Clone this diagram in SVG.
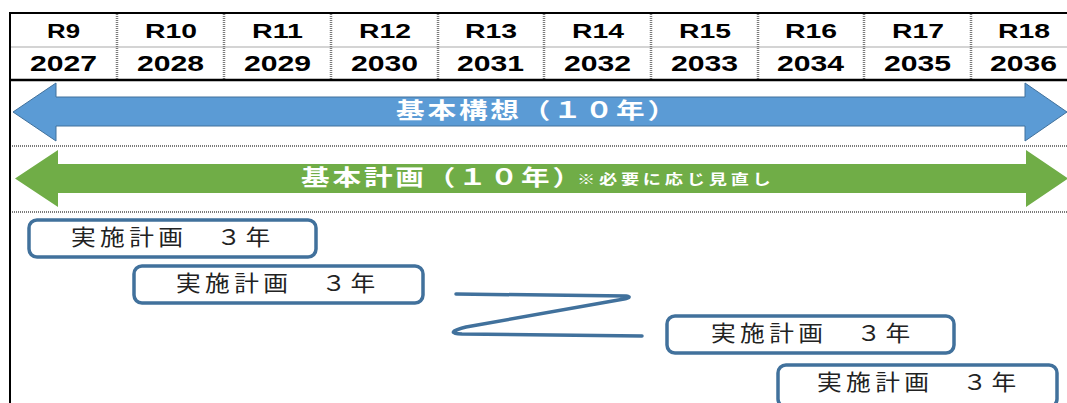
<svg xmlns="http://www.w3.org/2000/svg" width="1067" height="403" viewBox="0 0 1067 403">
  <style>
    .hdr { font-family: "Liberation Sans", Arial, sans-serif; font-weight: bold; fill: #000; }
    .dot { stroke: #7a7a7a; stroke-width: 2.5; stroke-dasharray: 1 1; fill: none; }
    .hdot { stroke: #7a7a7a; stroke-width: 2; stroke-dasharray: 1 1; fill: none; }
    .arrow-txt { font-family: "Noto Sans CJK JP", "Noto Sans", sans-serif; font-weight: bold; fill: #fff; }
    .box { fill: #fff; stroke: #41719C; stroke-width: 3.5; }
    .box-txt { font-family: "Noto Sans CJK JP", "Noto Sans", sans-serif; font-size: 21.5px; fill: #222; letter-spacing: 3.8px; }
    .zig { fill: none; stroke: #41719C; stroke-width: 3.5; stroke-linecap: round; stroke-linejoin: round; }
  </style>

  <rect x="0" y="0" width="1067" height="403" fill="#fff"/>

  <g id="timeline-header">
    <line x1="10" y1="47" x2="1067" y2="47" stroke="#d4d4d4" stroke-width="2"/>
    <g class="dot">
      <line x1="117" y1="14" x2="117" y2="80"/>
      <line x1="224" y1="14" x2="224" y2="80"/>
      <line x1="331" y1="14" x2="331" y2="80"/>
      <line x1="438" y1="14" x2="438" y2="80"/>
      <line x1="544" y1="14" x2="544" y2="80"/>
      <line x1="651" y1="14" x2="651" y2="80"/>
      <line x1="758" y1="14" x2="758" y2="80"/>
      <line x1="864" y1="14" x2="864" y2="80"/>
      <line x1="971" y1="14" x2="971" y2="80"/>
    </g>
    <line x1="9" y1="13" x2="1067" y2="13" stroke="#000" stroke-width="2"/>
    <line x1="9" y1="80" x2="1067" y2="80" stroke="#000" stroke-width="2.5"/>
    <g class="hdr" font-size="20">
      <text x="47" y="38" textLength="33" lengthAdjust="spacingAndGlyphs">R9</text>
      <text x="145" y="38" textLength="52" lengthAdjust="spacingAndGlyphs">R10</text>
      <text x="252" y="38" textLength="51" lengthAdjust="spacingAndGlyphs">R11</text>
      <text x="359" y="38" textLength="52" lengthAdjust="spacingAndGlyphs">R12</text>
      <text x="465" y="38" textLength="52" lengthAdjust="spacingAndGlyphs">R13</text>
      <text x="572" y="38" textLength="52" lengthAdjust="spacingAndGlyphs">R14</text>
      <text x="679" y="38" textLength="52" lengthAdjust="spacingAndGlyphs">R15</text>
      <text x="785" y="38" textLength="52" lengthAdjust="spacingAndGlyphs">R16</text>
      <text x="892" y="38" textLength="52" lengthAdjust="spacingAndGlyphs">R17</text>
      <text x="998" y="38" textLength="52" lengthAdjust="spacingAndGlyphs">R18</text>
    </g>
    <g class="hdr" font-size="22">
      <text x="30" y="71" textLength="67" lengthAdjust="spacingAndGlyphs">2027</text>
      <text x="137" y="71" textLength="67" lengthAdjust="spacingAndGlyphs">2028</text>
      <text x="244" y="71" textLength="67" lengthAdjust="spacingAndGlyphs">2029</text>
      <text x="351" y="71" textLength="67" lengthAdjust="spacingAndGlyphs">2030</text>
      <text x="457" y="71" textLength="67" lengthAdjust="spacingAndGlyphs">2031</text>
      <text x="564" y="71" textLength="67" lengthAdjust="spacingAndGlyphs">2032</text>
      <text x="671" y="71" textLength="67" lengthAdjust="spacingAndGlyphs">2033</text>
      <text x="777" y="71" textLength="67" lengthAdjust="spacingAndGlyphs">2034</text>
      <text x="884" y="71" textLength="67" lengthAdjust="spacingAndGlyphs">2035</text>
      <text x="990" y="71" textLength="67" lengthAdjust="spacingAndGlyphs">2036</text>
    </g>
  </g>

  <g id="row-separators" class="hdot">
    <line x1="10" y1="146" x2="1067" y2="146"/>
    <line x1="10" y1="212" x2="1067" y2="212"/>
  </g>

  <line x1="10" y1="12" x2="10" y2="403" stroke="#000" stroke-width="2"/>

  <g id="basic-concept">
    <polygon points="13,112 56,83 56,97 1025,97 1025,83 1067,112 1025,141 1025,126 56,126 56,141" fill="#5B9BD5" stroke="#41719C" stroke-width="1"/>
    <text class="arrow-txt" font-size="22" letter-spacing="2.2" transform="translate(396,118) scale(1.3,1)">基本構想（１０年）</text>
  </g>

  <g id="basic-plan">
    <polygon points="15,178.5 58,150 58,164 1026,164 1026,150 1068,178.5 1026,207 1026,193 58,193 58,207" fill="#70AD47"/>
    <text class="arrow-txt" font-size="22" letter-spacing="2.2" transform="translate(301,185) scale(1.3,1)">基本計画（１０年）</text>
    <text class="arrow-txt" font-size="14" letter-spacing="2.9" transform="translate(577,184) scale(1.3,1)">※必要に応じ見直し</text>
  </g>

  <g id="impl-plan-1">
    <rect class="box" x="29" y="220" width="287" height="37" rx="8"/>
    <text class="box-txt" transform="translate(71,245) scale(1.15,1)">実施計画　３年</text>
  </g>
  <g id="impl-plan-2">
    <rect class="box" x="134" y="266" width="289" height="37" rx="8"/>
    <text class="box-txt" transform="translate(176,291) scale(1.15,1)">実施計画　３年</text>
  </g>
  <g id="impl-plan-3">
    <rect class="box" x="667" y="316" width="287" height="37" rx="8"/>
    <text class="box-txt" transform="translate(711,341) scale(1.15,1)">実施計画　３年</text>
  </g>
  <g id="impl-plan-4">
    <rect class="box" x="778" y="365" width="279" height="42" rx="8"/>
    <text class="box-txt" transform="translate(817,390) scale(1.15,1)">実施計画　３年</text>
  </g>

  <g id="connectors">
    <path class="zig" d="M456,294 L626,296 Q633,297 624,299 L466,327 Q443,333 462,334 L642,336"/>
  </g>
</svg>
